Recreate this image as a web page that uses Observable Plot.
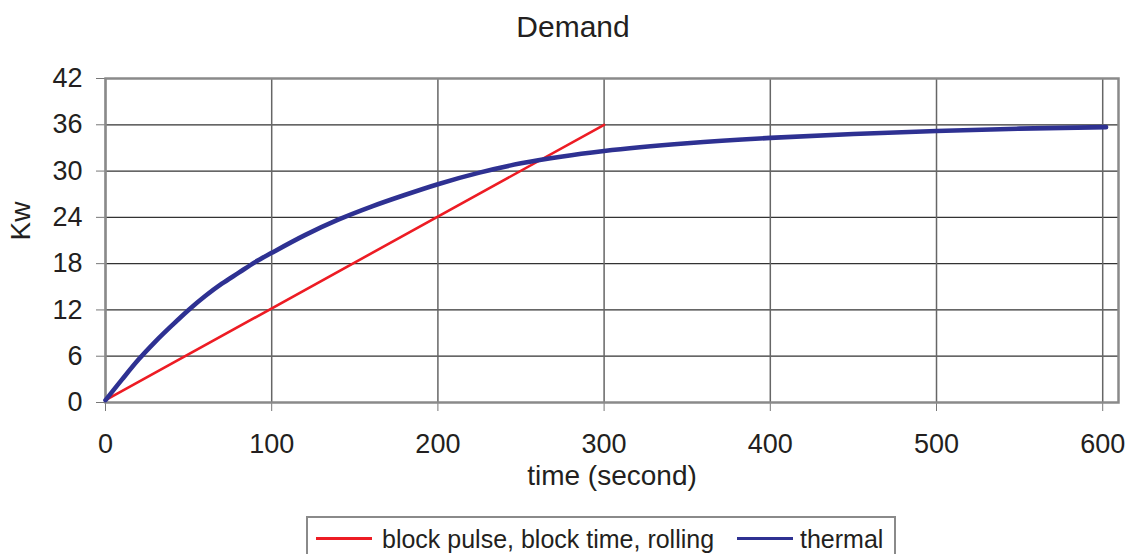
<!DOCTYPE html>
<html>
<head>
<meta charset="utf-8">
<script src="https://cdn.jsdelivr.net/npm/d3@7"></script>
<script src="https://cdn.jsdelivr.net/npm/@observablehq/plot@0.6"></script>
<style>
  body { margin: 0; background: #fff; font-family: "Liberation Sans", Arial, sans-serif; color: #231f20; }
  #wrap { position: relative; width: 1133px; height: 554px; overflow: hidden; }
  #legend { position: absolute; left: 306px; top: 516px; width: 590px; height: 60px; border: 2px solid #8a8a8a; box-sizing: border-box; }
  .sw { position: absolute; top: 19px; width: 56px; height: 3px; }
  .lt { position: absolute; top: 9px; font-size: 25px; line-height: 25px; white-space: nowrap; }
</style>
</head>
<body>
<div id="wrap">
  <div id="chart"></div>
  <div id="legend"></div>
</div>
<script>
// ---- data ----
const title = "Demand";
const xLabel = "time (second)";
const yLabel = "Kw";
const xTicks = [0, 100, 200, 300, 400, 500, 600];
const yTicks = [0, 6, 12, 18, 24, 30, 36, 42];

const seriesNames = ["block pulse, block time, rolling", "thermal"];
const seriesColors = ["#ed1c24", "#2e3192"];

const blockTime = [0, 300];
const blockKw = [0.3, 36];

const thermalTime = [0, 10, 20, 30, 40, 50, 60, 70, 80, 90, 100, 120, 140, 160, 180, 200, 225, 250, 275, 300, 350, 400, 450, 500, 550, 602];
const thermalKw = [0.3, 3.0, 5.6, 7.9, 10.0, 12.0, 13.8, 15.4, 16.8, 18.2, 19.4, 21.7, 23.7, 25.4, 26.9, 28.3, 29.8, 31.0, 31.9, 32.6, 33.6, 34.3, 34.8, 35.2, 35.5, 35.7];

const blockData = blockTime.map((t, i) => ({t, kw: blockKw[i]}));
const thermalData = thermalTime.map((t, i) => ({t, kw: thermalKw[i]}));

const chart = Plot.plot({
  width: 1133,
  height: 516,
  marginLeft: 105,
  marginRight: 15,
  marginTop: 78,
  marginBottom: 114,
  style: {fontFamily: "'Liberation Sans', Arial, sans-serif", background: "#fff", color: "#231f20"},
  x: {domain: [0, 609.5]},
  y: {domain: [0, 42]},
  marks: [
    Plot.gridY(yTicks, {stroke: "#333", strokeOpacity: 1, strokeWidth: 1.2}),
    Plot.gridX(xTicks, {stroke: "#666", strokeOpacity: 1, strokeWidth: 1.5}),
    Plot.axisY(yTicks, {tickSize: 9, tickPadding: 14, fontSize: 27, stroke: "#777", fill: "#231f20", label: null, tickFormat: d => d}),
    Plot.axisX(xTicks, {tickSize: 9, tickPadding: 22, fontSize: 27, stroke: "#777", fill: "#231f20", label: null, tickFormat: d => d}),
    Plot.frame({stroke: "#8a8a8a", strokeWidth: 2.5}),
    Plot.line(blockData, {x: "t", y: "kw", stroke: seriesColors[0], strokeWidth: 2.6}),
    Plot.line(thermalData, {x: "t", y: "kw", stroke: seriesColors[1], strokeWidth: 4.6, curve: "monotone-x"}),
    Plot.text([title], {text: d => d, frameAnchor: "top", dx: -39, dy: -63, fontSize: 30, fill: "#231f20"}),
    Plot.text([xLabel], {text: d => d, frameAnchor: "bottom", dy: 82, fontSize: 28, fill: "#231f20"}),
    Plot.text([yLabel], {text: d => d, frameAnchor: "left", dx: -84, rotate: -90, fontSize: 28, fill: "#231f20"})
  ]
});
document.getElementById("chart").appendChild(chart);

const legend = document.getElementById("legend");
const swLeft = [8, 429];
const txLeft = [74, 492];
seriesNames.forEach((name, i) => {
  const sw = document.createElement("div");
  sw.className = "sw";
  sw.style.left = swLeft[i] + "px";
  sw.style.background = seriesColors[i];
  legend.appendChild(sw);
  const tx = document.createElement("div");
  tx.className = "lt";
  tx.style.left = txLeft[i] + "px";
  tx.textContent = name;
  legend.appendChild(tx);
});
</script>
</body>
</html>
